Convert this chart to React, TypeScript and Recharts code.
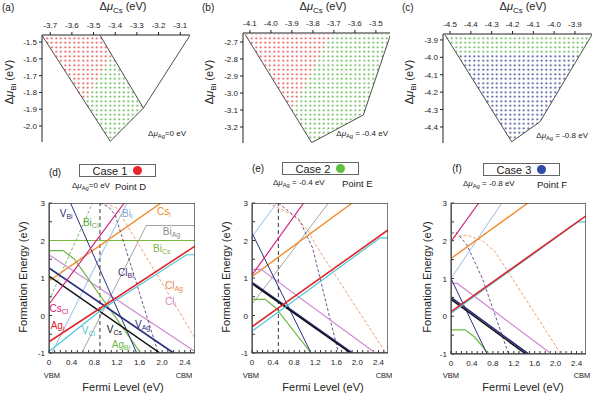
import React from 'react';
import { ComposedChart, Scatter, XAxis, YAxis, ReferenceLine } from 'recharts';

type Pt = [number, number];
type Series = { id: string; pts: Pt[] };
type Tag = { id: string; x: number; y: number };

const FF = '"Liberation Sans", Arial, Helvetica, sans-serif';

// ---- (a)-(c): stability regions in (Δμ_Cs, Δμ_Bi)
const aXTicks = [-3.7, -3.6, -3.5, -3.4, -3.3, -3.2, -3.1];
const aYTicks = [-1.5, -1.6, -1.7, -1.8, -1.9, -2.0];
const bXTicks = [-4.1, -4.0, -3.9, -3.8, -3.7, -3.6, -3.5];
const bYTicks = [-2.7, -2.8, -2.9, -3.0, -3.1, -3.2];
const cXTicks = [-4.5, -4.4, -4.3, -4.2, -4.1, -4.0, -3.9];
const cYTicks = [-3.9, -4.0, -4.1, -4.2, -4.3, -4.4];

const aCase1: Pt[] = [[-3.738, -1.46], [-3.47, -1.46], [-3.416, -1.577], [-3.542, -1.854]];
const aCase2: Pt[] = [[-3.416, -1.577], [-3.27, -1.893], [-3.423, -2.091], [-3.542, -1.854]];
const aEdge: Pt[] = [[-3.738, -1.46], [-3.423, -2.091], [-3.27, -1.893], [-3.055, -1.46]];
const aCut: Pt[] = [[-3.47, -1.46], [-3.27, -1.893]];

const bCase1: Pt[] = [[-4.123, -2.655], [-3.711, -2.655], [-3.901, -3.1]];
const bCase2: Pt[] = [[-3.711, -2.655], [-3.43, -2.655], [-3.56, -3.129], [-3.806, -3.292], [-3.901, -3.1]];
const bEdge: Pt[] = [[-4.123, -2.655], [-3.806, -3.292], [-3.56, -3.129], [-3.43, -2.655]];

const cCase2: Pt[] = [[-4.524, -3.872], [-3.819, -3.872], [-3.872, -3.977], [-4.469, -3.977]];
const cCase3: Pt[] = [[-4.469, -3.977], [-3.872, -3.977], [-4.068, -4.37], [-4.204, -4.485]];
const cEdge: Pt[] = [[-4.524, -3.872], [-4.204, -4.485], [-4.068, -4.37], [-3.819, -3.872]];

// ---- (d)-(f): formation energy vs Fermi level
const fermiTicks = [0, 0.1, 0.2, 0.3, 0.4, 0.5, 0.6, 0.7, 0.8, 0.9, 1.0, 1.1, 1.2, 1.3, 1.4, 1.5, 1.6, 1.7, 1.8, 1.9, 2.0, 2.1, 2.2, 2.3, 2.4, 2.5];
const fermiLabels = [0, 0.4, 0.8, 1.2, 1.6, 2.0, 2.4];
const energyTicks = [-1, -0.5, 0, 0.5, 1, 1.5, 2, 2.5, 3];
const energyLabels = [-1, 0, 1, 2, 3];
const gap = 2.58;

const dLines: Series[] = [
  { id: 'Bi_Cs', pts: [[0, 2], [2.58, 2]] },
  { id: 'Bi_Ag', pts: [[0.58, -1], [1.72, 2.4], [2.58, 2.4]] },
  { id: 'Bi_i', pts: [[0.05, -1], [1.38, 3]] },
  { id: 'Bi_Cl', pts: [[0, 0.4], [0.77, 3]] },
  { id: 'Cs_i', pts: [[0, 0.92], [1.98, 3]] },
  { id: 'Cl_i', pts: [[0, 1.62], [2.58, -0.96]] },
  { id: 'Cl_Ag', pts: [[1.0, 3], [1.2, 2.86], [2.58, -0.6]] },
  { id: 'Cl_Bi', pts: [[0.9, 3], [1.05, 2.9], [1.17, 2.68], [1.93, -1]] },
  { id: 'Ag_Bi', pts: [[0, 1.73], [0.25, 1.73], [0.45, 1.5], [1.62, -1]] },
  { id: 'V_Bi', pts: [[0.38, 3], [1.55, -1]] },
  { id: 'V_Ag', pts: [[0, 1.27], [2.2, -1]] },
  { id: 'V_Cs', pts: [[0, 1.05], [1.96, -1]] },
  { id: 'Cs_Cl', pts: [[0, 0.3], [1.33, 3]] },
  { id: 'V_Cl', pts: [[0, -0.96], [0.95, 0.18], [2.43, 1.62], [2.58, 1.62]] },
  { id: 'Ag_i', pts: [[0, -0.7], [2.58, 1.85]] },
];

const eLines: Series[] = [
  { id: 'Bi_Ag', pts: [[0, 0.3], [1.45, 3]] },
  { id: 'Bi_i', pts: [[0, 2.1], [0.47, 3]] },
  { id: 'Cl_Ag', pts: [[0.3, 3], [0.75, 2.7], [1.05, 2.3], [1.2, 1.9], [2.54, -1]] },
  { id: 'Cl_Bi', pts: [[0.5, 3], [0.9, 2.55], [1.15, 1.8], [1.64, -1]] },
  { id: 'Cs_i', pts: [[0, 1.04], [1.9, 3]] },
  { id: 'Cl_i', pts: [[0, 1.23], [0.17, 1.23], [2.34, -1]] },
  { id: 'Ag_Bi', pts: [[0, 0.43], [0.25, 0.43], [0.45, 0.2], [1.12, -1]] },
  { id: 'V_Bi', pts: [[0, 2.2], [1.12, -1]] },
  { id: 'V_Ag', pts: [[0, 0.88], [1.9, -1]] },
  { id: 'V_Cs', pts: [[0, 0.85], [1.87, -1]] },
  { id: 'Cs_Cl', pts: [[0, 1.08], [0.98, 3]] },
  { id: 'V_Cl', pts: [[0, -0.42], [2.43, 2.07], [2.58, 2.07]] },
  { id: 'Ag_i', pts: [[0, -0.3], [2.58, 2.28]] },
];

const fLines: Series[] = [
  { id: 'Bi_i', pts: [[0, 1.0], [0.97, 3]] },
  { id: 'Cl_Ag', pts: [[0.05, 2.1], [0.3, 2.15], [0.6, 2.0], [0.85, 1.7], [2.1, -1]] },
  { id: 'Cl_Bi', pts: [[0, 2.2], [0.1, 2.22], [0.3, 1.9], [0.6, 1.0], [1.1, -1]] },
  { id: 'Cs_i', pts: [[0, 1.53], [1.47, 3]] },
  { id: 'Cl_i', pts: [[0, 0.87], [0.12, 0.87], [1.92, -1]] },
  { id: 'Ag_Bi', pts: [[0, -0.36], [0.27, -0.36], [0.45, -0.55], [0.72, -1]] },
  { id: 'V_Bi', pts: [[0, 1.0], [0.69, -1]] },
  { id: 'V_Ag', pts: [[0, 0.5], [1.48, -1]] },
  { id: 'V_Cs', pts: [[0, 0.45], [1.43, -1]] },
  { id: 'Cs_Cl', pts: [[0, 1.98], [0.53, 3]] },
  { id: 'V_Cl', pts: [[0, 0.08], [2.43, 2.5], [2.58, 2.5]] },
  { id: 'Ag_i', pts: [[0, 0.12], [2.58, 2.66]] },
];

const dTags: Tag[] = [
  { id: 'V_Bi', x: 0.19, y: 2.73 },
  { id: 'Bi_Cl', x: 0.6, y: 2.49 },
  { id: 'Bi_i', x: 1.29, y: 2.73 },
  { id: 'Cs_i', x: 1.91, y: 2.78 },
  { id: 'Bi_Ag', x: 2.01, y: 2.23 },
  { id: 'Bi_Cs', x: 1.84, y: 1.8 },
  { id: 'Cl_Bi', x: 1.22, y: 1.16 },
  { id: 'Cl_Ag', x: 2.05, y: 0.8 },
  { id: 'Cl_i', x: 2.05, y: 0.38 },
  { id: 'Cs_Cl', x: 0.01, y: 0.18 },
  { id: 'Ag_i', x: 0.03, y: -0.27 },
  { id: 'V_Cl', x: 0.58, y: -0.41 },
  { id: 'V_Cs', x: 1.02, y: -0.38 },
  { id: 'V_Ag', x: 1.52, y: -0.25 },
  { id: 'Ag_Bi', x: 1.11, y: -0.78 },
];

const styles: Record<string, { color: string; w: number; dash?: string }> = {
  Ag_i: { color: '#e3242b', w: 1.6 },
  V_Cl: { color: '#4cc6d6', w: 1.2 },
  Cs_i: { color: '#f08a2a', w: 1.4 },
  Bi_Ag: { color: '#8c8c8c', w: 0.8 },
  Bi_Cs: { color: '#7ab83a', w: 1.0 },
  Cs_Cl: { color: '#d0247c', w: 1.2 },
  Bi_Cl: { color: '#5aa846', w: 0.8, dash: '3 2' },
  V_Bi: { color: '#2c2e7e', w: 1.0 },
  V_Ag: { color: '#2c2e7e', w: 1.7 },
  V_Cs: { color: '#111111', w: 1.5 },
  Cl_i: { color: '#cf8bd0', w: 1.2 },
  Ag_Bi: { color: '#6cb844', w: 1.2 },
  Bi_i: { color: '#7aa8dc', w: 0.8 },
  Cl_Bi: { color: '#4b2a6a', w: 0.8, dash: '3 2' },
  Cl_Ag: { color: '#e8884a', w: 0.8, dash: '3 2' },
};

const NoDot = () => <g />;
const toXY = (pts: Pt[]) => pts.map(([x, y]) => ({ x, y }));
const closed = (pts: Pt[]) => toXY([...pts, pts[0]]);

const LabelShape = (props: any) => {
  const { cx, cy, payload } = props;
  const [main, sub] = String(payload.id).split('_');
  return (
    <text x={cx} y={cy} fill={styles[payload.id].color} fontSize={10} fontFamily={FF} dominantBaseline="central">
      {main}
      <tspan fontSize={7} dy={2.5}>{sub}</tspan>
    </text>
  );
};

// tick text placed a fixed distance from the plot edge
const topTick = (baseY: number, fmt: (v: number) => string) => (p: any) => (
  <text x={p.x} y={baseY} textAnchor="middle" fontSize={8} fill="#222" fontFamily={FF}>{fmt(p.payload.value)}</text>
);
const leftTick = (endX: number, fmt: (v: number) => string) => (p: any) => (
  <text x={endX} y={p.y} dy={3} textAnchor="end" fontSize={8} fill="#222" fontFamily={FF}>{fmt(p.payload.value)}</text>
);
const bottomTick = (baseY: number, fmt: (v: number) => string) => (p: any) => (
  <text x={p.x} y={baseY} textAnchor="middle" fontSize={8} fill="#222" fontFamily={FF}>{fmt(p.payload.value)}</text>
);

function Sub({ children }: { children: React.ReactNode }) {
  return <span style={{ fontSize: '0.72em', verticalAlign: '-0.35em' }}>{children}</span>;
}

function Txt({ x, y, size = 10, rotate, anchor = 'middle', children }: any) {
  const tx = anchor === 'middle' ? '-50%' : anchor === 'end' ? '-100%' : '0';
  return (
    <div
      style={{
        position: 'absolute', left: x, top: y, fontSize: size, fontFamily: FF, color: '#222',
        whiteSpace: 'nowrap', lineHeight: 1,
        transform: `translate(${tx}, -50%)${rotate ? ` rotate(${rotate}deg)` : ''}`,
      }}
    >
      {children}
    </div>
  );
}

const fix1 = (v: number) => v.toFixed(1);

function RegionPanel({ left, plotLeft, plotTop, plotRight, plotBottom, xDomain, yDomain, xTicks, yTicks, fills, edges, pid }: any) {
  const margin = { top: plotTop - 20, left: plotLeft - 30, right: 200 - plotRight, bottom: 150 - plotBottom };
  return (
    <div style={{ position: 'absolute', left, top: 0 }}>
      <ComposedChart width={200} height={150} margin={margin}>
        <defs>
          <pattern id={`${pid}-r`} width={4.5} height={4.5} patternUnits="userSpaceOnUse">
            <circle cx={2.25} cy={2.25} r={1} fill="#e2393a" />
          </pattern>
          <pattern id={`${pid}-g`} width={4.5} height={4.5} patternUnits="userSpaceOnUse">
            <circle cx={2.25} cy={2.25} r={1} fill="#4cae36" />
          </pattern>
          <pattern id={`${pid}-b`} width={4.5} height={4.5} patternUnits="userSpaceOnUse">
            <circle cx={2.25} cy={2.25} r={1} fill="#2c3888" />
          </pattern>
        </defs>
        <XAxis
          type="number" dataKey="x" orientation="top" domain={xDomain} ticks={xTicks} allowDataOverflow
          height={20} tickSize={3} interval={0} stroke="#222" tick={topTick(plotTop - 7, fix1)}
        />
        <YAxis
          type="number" dataKey="y" domain={yDomain} ticks={yTicks} allowDataOverflow
          width={30} tickSize={3} interval={0} stroke="#222" tick={leftTick(plotLeft - 5, fix1)}
        />
        {fills.map((f: any, i: number) => (
          <Scatter key={`f${i}`} data={closed(f.pts)} line={{ fill: `url(#${pid}-${f.c})`, stroke: 'none' }}
            lineType="joint" shape={NoDot} isAnimationActive={false} />
        ))}
        {edges.map((e: Pt[], i: number) => (
          <Scatter key={`e${i}`} data={toXY(e)} line={{ stroke: '#222', strokeWidth: 0.8 }}
            lineType="joint" shape={NoDot} isAnimationActive={false} />
        ))}
      </ComposedChart>
    </div>
  );
}

const fermiFmt = (v: number) => (fermiLabels.includes(v) ? (v === 0 ? '0' : v.toFixed(1)) : '');
const energyFmt = (v: number) => (energyLabels.includes(v) ? String(v) : '');

function DefectPanel({ left, plotLeft, plotRight, plotBottom, lines, tags, fermi }: any) {
  const frame: Pt[] = [[0, -1], [gap, -1], [gap, 3], [0, 3]];
  const margin = { top: 53, left: plotLeft - 30, right: 200 - plotRight, bottom: 246 - plotBottom - 20 };
  return (
    <div style={{ position: 'absolute', left, top: 150 }}>
      <ComposedChart width={200} height={246} margin={margin}>
        <XAxis
          type="number" dataKey="x" domain={[0, gap]} ticks={fermiTicks} allowDataOverflow
          height={20} tickSize={-3} interval={0} stroke="#333" tick={bottomTick(plotBottom + 12, fermiFmt)}
        />
        <YAxis
          type="number" dataKey="y" domain={[-1, 3]} ticks={energyTicks} allowDataOverflow
          width={30} tickSize={-3} interval={0} stroke="#333" tick={leftTick(plotLeft - 4, energyFmt)}
        />
        {lines.map((s: Series, i: number) => {
          const st = styles[s.id];
          return (
            <Scatter key={i} data={toXY(s.pts)}
              line={{ stroke: st.color, strokeWidth: st.w, strokeDasharray: st.dash }}
              lineType="joint" shape={NoDot} isAnimationActive={false} />
          );
        })}
        {fermi != null && (
          <ReferenceLine x={fermi} stroke="#222" strokeWidth={0.9} strokeDasharray="4 3" />
        )}
        {tags && <Scatter data={tags} shape={LabelShape} isAnimationActive={false} />}
        <Scatter data={closed(frame)} line={{ stroke: '#444', strokeWidth: 1.4 }}
          lineType="joint" shape={NoDot} isAnimationActive={false} />
      </ComposedChart>
    </div>
  );
}

function CaseBox({ x, y, label, color }: any) {
  return (
    <div style={{
      position: 'absolute', left: x, top: y, width: 77, height: 13, border: '1px solid #666',
      fontFamily: FF, fontSize: 11, color: '#222', display: 'flex', alignItems: 'center',
      justifyContent: 'center', boxSizing: 'border-box', gap: 6,
    }}>
      <span>{label}</span>
      <span style={{ width: 9, height: 9, borderRadius: '50%', background: color, display: 'inline-block' }} />
    </div>
  );
}

const mu = (s: string) => (<>Δ<i>μ</i><Sub>{s}</Sub></>);

export default function App() {
  return (
    <div style={{ position: 'relative', width: 600, height: 396, background: '#fff', overflow: 'hidden' }}>
      <style>{'body{margin:0}'}</style>

      <RegionPanel pid="pa" left={0} plotLeft={42} plotTop={35} plotRight={190} plotBottom={142}
        xDomain={[-3.738, -3.055]} yDomain={[-2.095, -1.458]} xTicks={aXTicks} yTicks={aYTicks}
        fills={[{ pts: aCase1, c: 'r' }, { pts: aCase2, c: 'g' }]} edges={[aEdge, aCut]} />
      <RegionPanel pid="pb" left={200} plotLeft={43} plotTop={33} plotRight={190} plotBottom={143}
        xDomain={[-4.133, -3.433]} yDomain={[-3.294, -2.647]} xTicks={bXTicks} yTicks={bYTicks}
        fills={[{ pts: bCase1, c: 'r' }, { pts: bCase2, c: 'g' }]} edges={[bEdge]} />
      <RegionPanel pid="pc" left={400} plotLeft={43} plotTop={34} plotRight={192} plotBottom={143}
        xDomain={[-4.534, -3.818]} yDomain={[-4.492, -3.866]} xTicks={cXTicks} yTicks={cYTicks}
        fills={[{ pts: cCase2, c: 'g' }, { pts: cCase3, c: 'b' }]} edges={[cEdge]} />

      {[0, 200, 400].map((o, i) => (
        <React.Fragment key={o}>
          <Txt x={o + 2} y={8} anchor="start" size={10}>{['(a)', '(b)', '(c)'][i]}</Txt>
          <Txt x={o + 123} y={8} size={11}>{mu('Cs')} (eV)</Txt>
          <Txt x={o + 11} y={82} size={11} rotate={-90}>{mu('Bi')} (eV)</Txt>
        </React.Fragment>
      ))}
      <Txt x={186} y={135} anchor="end" size={8}>{mu('Ag')}=0 eV</Txt>
      <Txt x={388} y={135} anchor="end" size={8}>{mu('Ag')} = -0.4 eV</Txt>
      <Txt x={588} y={137} anchor="end" size={8}>{mu('Ag')} = -0.8 eV</Txt>

      <DefectPanel left={0} plotLeft={49} plotRight={195} plotBottom={203} lines={dLines} tags={dTags} fermi={0.9} />
      <DefectPanel left={200} plotLeft={52} plotRight={188} plotBottom={203} lines={eLines} fermi={0.5} />
      <DefectPanel left={400} plotLeft={51} plotRight={186} plotBottom={204} lines={fLines} />

      <Txt x={55} y={173} size={10}>(d)</Txt>
      <Txt x={258} y={169} size={10}>(e)</Txt>
      <Txt x={457} y={169} size={10}>(f)</Txt>
      <CaseBox x={79} y={164} label="Case 1" color="#e8262a" />
      <CaseBox x={282} y={162} label="Case 2" color="#5ec040" />
      <CaseBox x={483} y={163} label="Case 3" color="#3048a8" />

      <Txt x={72} y={187} anchor="start" size={8}>{mu('Ag')}=0 eV</Txt>
      <Txt x={115} y={187} anchor="start" size={9.5}>Point D</Txt>
      <Txt x={273} y={184} anchor="start" size={8}>{mu('Ag')} = -0.4 eV</Txt>
      <Txt x={342} y={184} anchor="start" size={9.5}>Point E</Txt>
      <Txt x={463} y={185} anchor="start" size={8}>{mu('Ag')} = -0.8 eV</Txt>
      <Txt x={537} y={185} anchor="start" size={9.5}>Point F</Txt>

      {[[23, 52, 184, 123], [226, 251, 384, 323], [427, 451, 582, 523]].map(([yl, vbm, cbm, fx]) => (
        <React.Fragment key={yl}>
          <Txt x={yl} y={277} size={11} rotate={-90}>Formation Energy (eV)</Txt>
          <Txt x={vbm} y={376} size={7.5}>VBM</Txt>
          <Txt x={cbm} y={376} size={7.5}>CBM</Txt>
          <Txt x={fx} y={387} size={11}>Fermi Level (eV)</Txt>
        </React.Fragment>
      ))}
    </div>
  );
}
